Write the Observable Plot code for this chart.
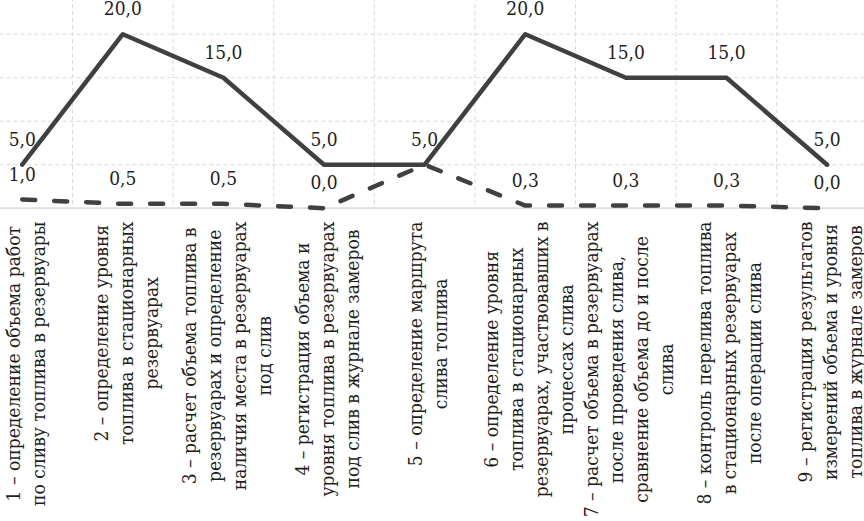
<!DOCTYPE html>
<html>
<head>
<meta charset="utf-8">
<script src="https://cdn.jsdelivr.net/npm/d3@7"></script>
<script src="https://cdn.jsdelivr.net/npm/@observablehq/plot@0.6"></script>
<style>
  html, body { margin: 0; padding: 0; background: #fff; overflow: hidden; }
  #chart svg text, #chart svg tspan { font-family: "DejaVu Serif Condensed", "DejaVu Serif", serif; font-stretch: condensed; }
</style>
</head>
<body>
<div id="chart"></div>
<script>
const categories = [
  "1 – определение объема работ\nпо сливу топлива в резервуары",
  "2 – определение уровня\nтоплива в стационарных\nрезервуарах",
  "3 – расчет объема топлива в\nрезервуарах и определение\nналичия места в резервуарах\nпод слив",
  "4 – регистрация объема и\nуровня топлива в резервуарах\nпод слив в журнале замеров",
  "5 – определение маршрута\nслива топлива",
  "6 – определение уровня\nтоплива в стационарных\nрезервуарах, участвовавших в\nпроцессах слива",
  "7 – расчет объема в резервуарах\nпосле проведения слива,\nсравнение объема до и после\nслива",
  "8 – контроль перелива топлива\nв стационарных резервуарах\nпосле операции слива",
  "9 – регистрация результатов\nизмерений объема и уровня\nтоплива в журнале замеров"
];
const solidValues = [5.0, 20.0, 15.0, 5.0, 5.0, 20.0, 15.0, 15.0, 5.0];
const dashedValues = [1.0, 0.5, 0.5, 0.0, 5.0, 0.3, 0.3, 0.3, 0.0];
const yTicks = [0, 5, 10, 15, 20, 25];

const idx = categories.map((c, i) => i + 1);
const solid = categories.map((c, i) => ({x: i + 1, y: solidValues[i]}));
const dashed = categories.map((c, i) => ({x: i + 1, y: dashedValues[i]}));
// where both series share a point, only one label is visible
const dashedLabels = dashed.filter((d, i) => d.y !== solidValues[i]);
const labels = categories.map((c, i) => ({x: i + 1, text: c}));
const boundaries = idx.slice(0, -1).map(v => v + 0.5);
const fmt = v => v.toFixed(1).replace(".", ",");

const W = 864, H = 521;
const font = "DejaVu Serif Condensed, DejaVu Serif, serif";
const lineColor = "#404040";
const textColor = "#1e1e1e";

const chart = Plot.plot({
  width: W,
  height: H,
  marginLeft: -28.6,
  marginRight: -12.9,
  marginTop: -9.8,
  marginBottom: 313.3,
  style: {background: "#fff"},
  x: {type: "linear", domain: [0.5, 9.5], axis: null},
  y: {domain: [0, 25], axis: null},
  marks: [
    Plot.ruleY(yTicks.filter(v => v > 0), {stroke: "#d9d9d9", strokeWidth: 1, strokeDasharray: "4,3"}),
    Plot.ruleX(boundaries, {stroke: "#d9d9d9", strokeWidth: 1, strokeDasharray: "4,3"}),
    Plot.ruleY([0], {stroke: "#d0d0d0", strokeWidth: 1.2}),
    Plot.line(dashed, {x: "x", y: "y", stroke: lineColor, strokeWidth: 4.5, strokeDasharray: "13,19", strokeLinecap: "round", strokeLinejoin: "round"}),
    Plot.line(solid, {x: "x", y: "y", stroke: lineColor, strokeWidth: 4.5, strokeLinecap: "round", strokeLinejoin: "round"}),
    Plot.text(dashedLabels, {x: "x", y: "y", text: d => fmt(d.y), dy: -25, fontSize: 21, fill: textColor, fontFamily: font, className: "vlab"}),
    Plot.text(solid, {x: "x", y: "y", text: d => fmt(d.y), dy: -25, fontSize: 21, fill: textColor, fontFamily: font, className: "vlab"}),
    Plot.text(labels, {x: "x", text: "text", frameAnchor: "bottom", rotate: -90, textAnchor: "middle", lineAnchor: "middle", lineHeight: 1.25, fontSize: 20, fill: textColor, fontFamily: font, dx: 2, className: "xlab"})
  ]
});

document.getElementById("chart").appendChild(chart);

// fit font sizes to the reference text extents
function measure(parent, proto, sample, size) {
  const probe = proto.cloneNode(false);
  probe.removeAttribute("transform");
  probe.removeAttribute("style");
  probe.style.fontSize = size + "px";
  probe.textContent = sample;
  parent.appendChild(probe);
  const L = probe.getComputedTextLength();
  probe.remove();
  return L;
}

function layout() {
  const vtexts = Array.from(chart.querySelectorAll(".vlab text"));
  if (vtexts.length) {
    const L = measure(vtexts[0].parentNode, vtexts[0], "20,0", 21);
    const vfs = L > 0 ? 21 * 38 / L : 21;
    vtexts.forEach(t => t.style.fontSize = vfs + "px");
  }

  const xtexts = Array.from(chart.querySelectorAll(".xlab text"));
  if (!xtexts.length) return;
  let maxL = 0;
  categories.forEach(c => c.split("\n").forEach(line => {
    maxL = Math.max(maxL, measure(xtexts[0].parentNode, xtexts[0], line, 20));
  }));
  const xfs = maxL > 0 ? 20 * 296 / maxL : 20;
  const lh = 25;
  const topGap = 221 - (H - 313.3);
  xtexts.forEach(t => {
    t.style.fontSize = xfs + "px";
    if (!t.dataset.base) t.dataset.base = t.getAttribute("transform") || "";
    const spans = Array.from(t.querySelectorAll("tspan"));
    const n = spans.length;
    spans.forEach((s, k) => {
      if (k === 0) {
        s.removeAttribute("dy");
        s.setAttribute("y", (8 - (n - 1) / 2 * lh) + "px");
      } else {
        s.removeAttribute("y");
        s.setAttribute("dy", lh + "px");
      }
    });
    let L = 0;
    spans.forEach(s => { L = Math.max(L, s.getComputedTextLength()); });
    const nt = t.dataset.base.replace(/translate\(\s*([-\d.e]+)[\s,]+([-\d.e]+)\s*\)/, (m, a, b) => `translate(${a},${(+b + topGap + L / 2).toFixed(2)})`);
    t.setAttribute("transform", nt);
  });
}
layout();
if (document.fonts && document.fonts.ready) document.fonts.ready.then(layout);
</script>
</body>
</html>
